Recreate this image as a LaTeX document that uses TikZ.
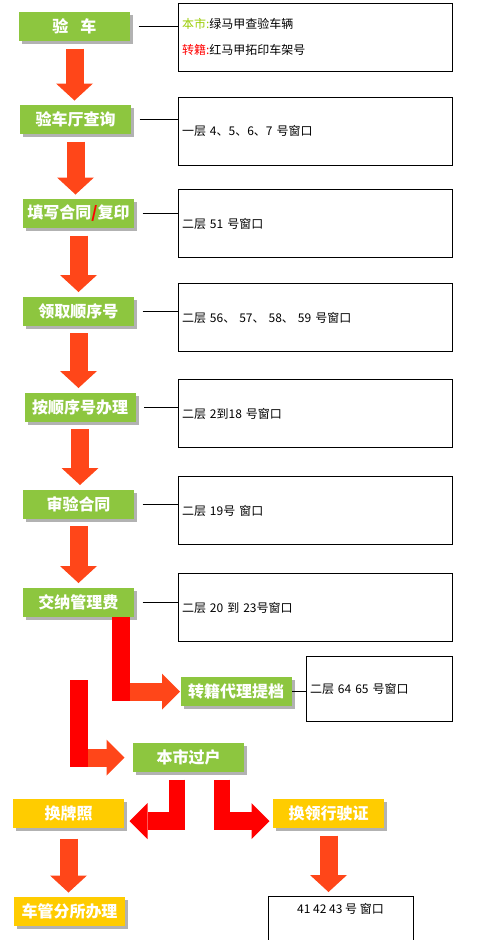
\documentclass[tikz,border=0pt]{standalone}
\usepackage{fontspec}
\newfontfamily\cjk{Noto Sans CJK SC}
\usetikzlibrary{arrows.meta,shadows}

\tikzset{every picture/.style={line width=0.75pt}}
\tikzset{
  greenbox/.style={fill={rgb, 255:red, 141; green, 198; blue, 63 }, minimum width=83.25pt, minimum height=21.75pt, inner sep=0pt, text=white, font=\cjk\bfseries\fontsize{12pt}{14pt}\selectfont, drop shadow={shadow xshift=2.25pt, shadow yshift=-2.25pt, fill=black, opacity=0.3}},
  yellowbox/.style={greenbox, fill={rgb, 255:red, 255; green, 204; blue, 0 }},
  infobox/.style={draw, minimum width=205.5pt, minimum height=51pt, text width=199.5pt, inner xsep=3pt, align=left, font=\cjk\fontsize{9pt}{11pt}\selectfont},
  infotext/.style={inner sep=0pt, font=\cjk\fontsize{9pt}{11pt}\selectfont},
  downarrow/.style={draw={rgb, 255:red, 255; green, 70; blue, 25 }, line width=13.5pt, shorten <=5.25pt, shorten >=3pt, -{Triangle[width=27.75pt, length=12.75pt, line width=0pt]}},
  sidearrow/.style={draw={rgb, 255:red, 255; green, 70; blue, 25 }, line width=13.5pt, -{Triangle[width=27pt, length=13.5pt, line width=0pt]}},
  redarrow/.style={sidearrow, draw={rgb, 255:red, 255; green, 0; blue, 0 }},
  redbar/.style={draw={rgb, 255:red, 255; green, 0; blue, 0 }, line width=13.5pt},
  redbarthin/.style={redbar, line width=12pt, shorten <=5.25pt}
}

\begin{document}
\begin{tikzpicture}[x=0.75pt,y=0.75pt,yscale=-1,xscale=1]
\useasboundingbox (0,0) rectangle (500,940);
\clip (0,0) rectangle (500,940);

%Steps [green]
\node[greenbox] (b1) at (74.5,26.5) {验\kern9pt 车};
\node[greenbox] (b2) at (75.5,119.5) {验车厅查询};
\node[greenbox] (b3) at (78.5,213.5) {填写合同{\color{red}/}复印};
\node[greenbox] (b4) at (78.5,311) {领取顺序号};
\node[greenbox] (b5) at (80,407) {按顺序号办理};
\node[greenbox] (b6) at (78.5,504) {审验合同};
\node[greenbox] (b7) at (78.5,602) {交纳管理费};
\node[greenbox] (b8) at (236,691.5) {转籍代理提档};
\node[greenbox] (b9) at (188.5,757.5) {本市过户};
%Steps [yellow]
\node[yellowbox] (b10) at (68.5,813) {换牌照};
\node[yellowbox] (b11) at (328.5,813.5) {换领行驶证};
\node[yellowbox] (b12) at (69.5,911.5) {车管分所办理};

%Windows
\node[infobox] (i1) at (315,37) {{\color[RGB]{153,204,0}本市:}绿马甲查验车辆\\[8pt]{\color{red}转籍:}红马甲拓印车架号};
\node[infobox] (i2) at (315,131) {一层 4、5、6、7 号窗口};
\node[infobox] (i3) at (315,223.5) {二层 51 号窗口};
\node[infobox] (i4) at (315,317.5) {二层 56、 57、 58、 59 号窗口};
\node[infobox] (i5) at (315,413.5) {二层 2到18 号窗口};
\node[infobox] (i6) at (315,510.5) {二层 19号 窗口};
\node[infobox] (i7) at (315,607.5) {二层 20 到 23号窗口};
\node[infobox, minimum width=109.5pt, minimum height=48.75pt, text width=103.5pt] (i8) at (379,688.5) {二层 64 65 号窗口};
\node[draw, minimum width=108.75pt, minimum height=41pt, anchor=north] (i9) at (340.5,896) {};
\node[infotext] (t9) at (340.5,909) {41 42 43 号 窗口};

%Lines
\draw ([xshift=6pt]b1.east) -- (b1.east -| i1.west);
\draw ([xshift=6pt]b2.east) -- (b2.east -| i2.west);
\draw ([xshift=6pt]b3.east) -- (b3.east -| i3.west);
\draw ([xshift=6pt]b4.east) -- (b4.east -| i4.west);
\draw ([xshift=6pt]b5.east) -- (b5.east -| i5.west);
\draw ([xshift=6pt]b6.east) -- (b6.east -| i6.west);
\draw ([xshift=6pt]b7.east) -- (b7.east -| i7.west);
\draw (b8.east) -- (b8.east -| i8.west);

%Arrows down
\draw[downarrow] (b1.south) -- (b1.south |- b2.north);
\draw[downarrow] (b2.south) -- (b2.south |- b3.north);
\draw[downarrow] (b3.south) -- (b3.south |- b4.north);
\draw[downarrow] (b4.south) -- (b4.south |- b5.north);
\draw[downarrow] (b5.south) -- (b5.south |- b6.north);
\draw[downarrow] (b6.south) -- (b6.south |- b7.north);
\draw[downarrow, shorten <=8pt] (b10.south) -- (b10.south |- b12.north);
\draw[downarrow] (b11.south) -- (b11.south |- i9.north);

%Arrows bent
\coordinate (k1) at (121,701);
\draw[sidearrow] (b8.west -| k1) -- (b8.west);
\draw[redbar] (b7.south -| k1) -- (k1);
\coordinate (k2top) at (78.5,680);
\coordinate (k2) at (78.5,767);
\draw[sidearrow, shorten >=6pt] (b9.west -| k2) -- (b9.west);
\draw[redbar] (k2top) -- (k2);
\coordinate (k3) at (176.5,830);
\coordinate (k3a) at (176.5,821);
\draw[redarrow, shorten >=3.75pt] (k3a) -- (k3a -| b10.east);
\draw[redbarthin] (b9.south -| k3) -- (k3);
\coordinate (k4) at (222,830);
\coordinate (k4a) at (222,821);
\draw[redarrow, shorten >=2.25pt] (k4a) -- (k4a -| b11.west);
\draw[redbarthin] (b9.south -| k4) -- (k4);
\end{tikzpicture}
\end{document}
